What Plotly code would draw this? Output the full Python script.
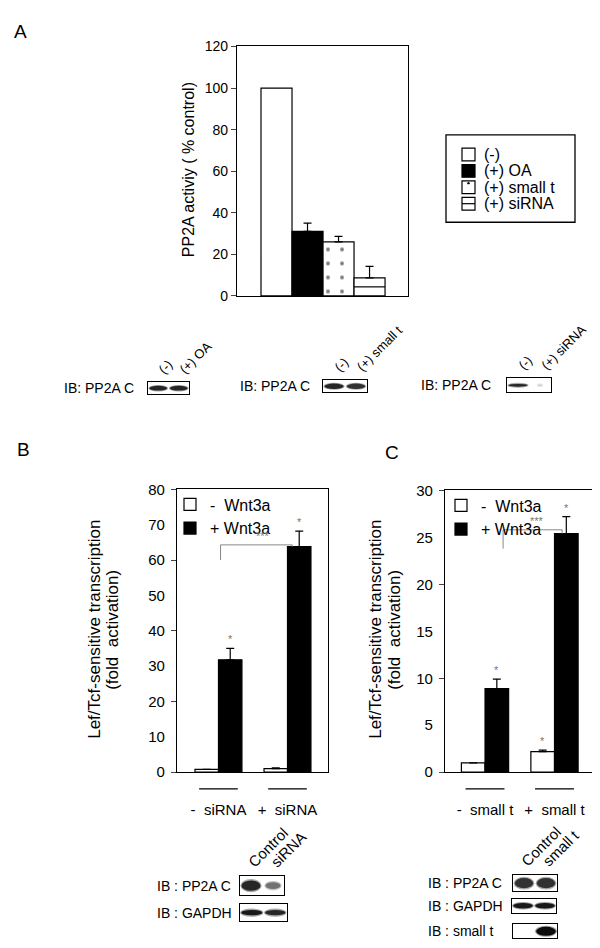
import plotly.graph_objects as go

W, H = 600, 948
FONT = "Liberation Sans"

# panel A: PP2A activity
a_labels = ["(-)", "(+) OA", "(+) small t", "(+) siRNA"]
a_values = [100, 31, 26, 8.7]
a_errors = [0, 4.0, 2.6, 5.5]

# panel B: Lef/Tcf reporter with siRNA
b_groups = ["-  siRNA", "+  siRNA"]
b_minus_wnt = [0.8, 1.0]
b_minus_err = [0.0, 0.2]
b_plus_wnt = [31.8, 63.8]
b_plus_err = [3.2, 4.4]

# panel C: Lef/Tcf reporter with small t
c_groups = ["-  small t", "+  small t"]
c_minus_wnt = [1.0, 2.2]
c_minus_err = [0.0, 0.15]
c_plus_wnt = [8.9, 25.4]
c_plus_err = [1.0, 1.8]

# western blots: label, lane names, band darkness and thickness
blot_names = ["IB: PP2A C", "IB: PP2A C", "IB: PP2A C",
              "IB : PP2A C", "IB : GAPDH",
              "IB : PP2A C", "IB : GAPDH", "IB : small t"]
blot_lanes = [["(-)", "(+) OA"], ["(-)", "(+) small t"], ["(-)", "(+) siRNA"],
              ["Control", "siRNA"], None,
              ["Control", "small t"], None, None]
blot_signal = [[0.85, 0.85], [0.85, 0.8], [0.85, 0.2],
               [0.85, 0.55], [0.9, 0.85],
               [0.8, 0.8], [0.9, 0.9], [0.0, 0.95]]
blot_thick = [[0.4, 0.4], [0.45, 0.45], [0.2, 0.12],
              [0.55, 0.35], [0.3, 0.3],
              [0.65, 0.65], [0.4, 0.4], [0.0, 0.65]]
# pixel boxes of each blot (left, top, right, bottom)
blot_boxes = [(140, 372, 181, 384), (315, 370, 359, 382), (499, 368, 543, 382),
              (232, 875, 276, 894), (232, 903, 279, 921),
              (505, 874, 549, 890), (504, 898, 548, 912), (505, 924, 549, 938)]
blot_label_x = [128, 304, 485, 147, 147, 418, 418, 418]
blot_label_anchor = ["right", "right", "right", "left", "left", "left", "left", "left"]


def px(p):
    return p / W


def py(p):
    return 1 - p / H


fig = go.Figure()
ann = []
shapes = []

# ---- panel A bars
a_fills = ["white", "black", "white", "white"]
for i, (lab, v, e, fc) in enumerate(zip(a_labels, a_values, a_errors, a_fills)):
    pattern = dict(shape=".", size=14, solidity=0.06, fgcolor="black", bgcolor="white") if lab == "(+) small t" else None
    fig.add_trace(go.Bar(
        x=[i], y=[v], width=1, offset=-0.5, name=lab, showlegend=False,
        marker=dict(color=fc, line=dict(color="black", width=1.2), pattern=pattern),
        error_y=dict(type="data", array=[e], arrayminus=[0], symmetric=False,
                     color="black", thickness=1.2, width=4, visible=e > 0),
        xaxis="x", yaxis="y"))
# the siRNA bar has a line through its middle
fig.add_trace(go.Scatter(x=[2.5, 3.5], y=[a_values[3] / 2] * 2, mode="lines",
                         line=dict(color="black", width=1.2), showlegend=False,
                         xaxis="x", yaxis="y", hoverinfo="skip"))

# panel A legend, boxed, drawn by hand to keep its tight rows
shapes.append(dict(type="rect", xref="paper", yref="paper", x0=px(438), x1=px(567), y0=py(209), y1=py(120),
                   line=dict(color="black", width=1.3), fillcolor="white"))
for i, lab in enumerate(a_labels):
    yc = 140 + i * 16.7
    shapes.append(dict(type="rect", xref="paper", yref="paper", x0=px(454), x1=px(467),
                       y0=py(yc + 6.5), y1=py(yc - 6.5), line=dict(color="black", width=1.2),
                       fillcolor=a_fills[i]))
    if lab == "(+) small t":
        shapes.append(dict(type="circle", xref="paper", yref="paper", x0=px(459.3), x1=px(461.7),
                           y0=py(yc - 3), y1=py(yc - 5.4), fillcolor="black", line=dict(width=0)))
    if lab == "(+) siRNA":
        shapes.append(dict(type="line", xref="paper", yref="paper", x0=px(454), x1=px(467),
                           y0=py(yc), y1=py(yc), line=dict(color="black", width=1.2)))
    ann.append(dict(x=px(474), y=py(yc), xref="paper", yref="paper", text=lab, xanchor="left",
                    yanchor="middle", showarrow=False, font=dict(size=16)))


def reporter(xa, ya, leg, minus, minus_err, plus, plus_err):
    xs = list(range(len(minus)))
    fig.add_trace(go.Bar(x=xs, y=minus, width=0.34, offset=-0.34, name="-  Wnt3a", legend=leg,
                         marker=dict(color="white", line=dict(color="black", width=1.2)),
                         error_y=dict(type="data", array=minus_err, arrayminus=[0] * len(xs),
                                      symmetric=False, color="black", thickness=1.2, width=4),
                         xaxis=xa, yaxis=ya))
    fig.add_trace(go.Bar(x=xs, y=plus, width=0.34, offset=0, name="+ Wnt3a", legend=leg,
                         marker=dict(color="black", line=dict(color="black", width=1.2)),
                         error_y=dict(type="data", array=plus_err, arrayminus=[0] * len(xs),
                                      symmetric=False, color="black", thickness=1.2, width=4),
                         xaxis=xa, yaxis=ya))


reporter("x2", "y2", "legend2", b_minus_wnt, b_minus_err, b_plus_wnt, b_plus_err)
reporter("x3", "y3", "legend3", c_minus_wnt, c_minus_err, c_plus_wnt, c_plus_err)

# significance brackets
fig.add_trace(go.Scatter(x=[0.03, 0.03, 1.07, 1.07], y=[60, 64.3, 64.3, 63.8], mode="lines",
                         line=dict(color="#888888", width=1), showlegend=False,
                         xaxis="x2", yaxis="y2", hoverinfo="skip"))
fig.add_trace(go.Scatter(x=[0.26, 0.26, 1.11, 1.11], y=[23.8, 25.8, 25.8, 25.4], mode="lines",
                         line=dict(color="#888888", width=1), showlegend=False,
                         xaxis="x3", yaxis="y3", hoverinfo="skip"))
# dummy traces for the tick-only axes
fig.add_trace(go.Scatter(x=[None], y=[None], xaxis="x2", yaxis="y6", showlegend=False))
fig.add_trace(go.Scatter(x=[None], y=[None], xaxis="x3", yaxis="y7", showlegend=False))


def star(xa, ya, x, y, text="*"):
    ann.append(dict(x=x, y=y, xref=xa, yref=ya, text=text, showarrow=False, yanchor="bottom",
                    xanchor="center", yshift=1, font=dict(size=11, color="#777777")))


for i in range(2):
    star("x2", "y2", i + 0.17, b_plus_wnt[i] + b_plus_err[i])
    star("x3", "y3", i + 0.17, c_plus_wnt[i] + c_plus_err[i])
star("x3", "y3", 1 - 0.17, c_minus_wnt[1] + c_minus_err[1])
star("x2", "y2", 0.64, 64.3, "***")
star("x3", "y3", 0.75, 25.8, "***")

# group lines under B and C x labels
for xa in ["x2", "x3"]:
    for i in range(2):
        shapes.append(dict(type="line", xref=xa, yref="paper", x0=i - 0.28, x1=i + 0.28,
                           y0=py(786), y1=py(786), line=dict(color="black", width=1.2)))

# axis titles
ann.append(dict(x=px(180), y=py(156), xref="paper", yref="paper", text="PP2A activiy ( % control)",
                textangle=-90, showarrow=False, xanchor="center", yanchor="middle", font=dict(size=16)))
for xx, txt in [(px(87), "Lef/Tcf-sensitive transcription"), (px(105), "(fold  activation)"),
                (px(368), "Lef/Tcf-sensitive transcription"), (px(387), "(fold  activation)")]:
    ann.append(dict(x=xx, y=py(624), xref="paper", yref="paper", text=txt, textangle=-90,
                    xanchor="center", yanchor="middle", showarrow=False, font=dict(size=17)))

# panel letters
for lab, xx, yy in [("A", 12, 15), ("B", 15, 440), ("C", 384, 443)]:
    ann.append(dict(x=px(xx), y=py(yy), xref="paper", yref="paper", text=lab, showarrow=False,
                    xanchor="center", yanchor="middle", font=dict(size=19)))

layout_axes = {}
# blots
for k, (name, lanes, sig, thick, box, lx, la) in enumerate(
        zip(blot_names, blot_lanes, blot_signal, blot_thick, blot_boxes, blot_label_x, blot_label_anchor)):
    ax = 8 + k
    xa, ya = "x%d" % ax, "y%d" % ax
    l, t, r, b = box
    layout_axes["xaxis%d" % ax] = dict(domain=[px(l), px(r)], range=[0, 2], anchor=ya, showline=True,
                                       mirror=True, linecolor="black", linewidth=1.3, showticklabels=False,
                                       ticks="", showgrid=False, zeroline=False, fixedrange=True)
    layout_axes["yaxis%d" % ax] = dict(domain=[py(b), py(t)], range=[0, 1], anchor=xa, showline=True,
                                       mirror=True, linecolor="black", linewidth=1.3, showticklabels=False,
                                       ticks="", showgrid=False, zeroline=False, fixedrange=True)
    fig.add_trace(go.Scatter(x=[None], y=[None], xaxis=xa, yaxis=ya, showlegend=False))
    for j, (s, th) in enumerate(zip(sig, thick)):
        if s <= 0:
            continue
        g = int(255 * (1 - s))
        halo = int(255 - (255 - g) * 0.4)
        wid = 0.35 + 0.55 * min(1, s * 1.1) if s > 0.3 else 0.2
        shapes.append(dict(type="circle", xref=xa, yref=ya, x0=j + 0.5 - wid / 2 - 0.05,
                           x1=j + 0.5 + wid / 2 + 0.05, y0=0.5 - th / 2 - 0.08, y1=0.5 + th / 2 + 0.08,
                           fillcolor="rgb(%d,%d,%d)" % (halo, halo, halo), line=dict(width=0), layer="above"))
        shapes.append(dict(type="circle", xref=xa, yref=ya, x0=j + 0.5 - wid / 2, x1=j + 0.5 + wid / 2,
                           y0=0.5 - th / 2, y1=0.5 + th / 2,
                           fillcolor="rgb(%d,%d,%d)" % (g, g, g), line=dict(width=0), layer="above"))
    ann.append(dict(x=px(lx), y=py((t + b) / 2), xref="paper", yref="paper", text=name,
                    xanchor=la, yanchor="middle", showarrow=False, font=dict(size=14)))
    if lanes:
        size = 13 if k < 3 else 15
        for j, lane in enumerate(lanes):
            ann.append(dict(x=px(l + (r - l) * (j + 0.5) / 2 - (5 if k < 3 else 9)), y=py(t - 3),
                            xref="paper", yref="paper", text=lane, textangle=-45,
                            xanchor="left", yanchor="bottom", showarrow=False, font=dict(size=size)))

axis_common = dict(showline=True, mirror=True, linecolor="black", linewidth=1.3, showgrid=False,
                   zeroline=False, fixedrange=True)

fig.update_layout(
    width=W, height=H, margin=dict(l=0, r=0, t=0, b=0),
    paper_bgcolor="white", plot_bgcolor="white",
    font=dict(family=FONT, size=14, color="black"),
    barmode="overlay",
    xaxis=dict(domain=[px(229), px(400)], range=[-1.274, 4.24], ticks="", showticklabels=False,
               anchor="y", **axis_common),
    yaxis=dict(domain=[py(284), py(30)], range=[0, 120], dtick=20, ticks="outside", ticklen=5,
               tickfont=dict(size=14), anchor="x", **axis_common),
    xaxis2=dict(domain=[px(169), px(320)], range=[-0.601, 1.587], tickvals=[0, 1], ticktext=b_groups,
                ticks="", ticklabelstandoff=24, tickfont=dict(size=15), anchor="y2", **axis_common),
    yaxis2=dict(domain=[py(769), py(481)], range=[0, 80], dtick=10, ticks="", ticklabelstandoff=8,
                tickfont=dict(size=15), anchor="x2", **axis_common),
    yaxis6=dict(overlaying="y2", range=[0, 80], dtick=20, ticks="outside", ticklen=5, showticklabels=False,
                showgrid=False, zeroline=False, anchor="x2", side="left", fixedrange=True),
    xaxis3=dict(domain=[px(437), px(587)], range=[-0.576, 1.583], tickvals=[0, 1], ticktext=c_groups,
                ticks="", ticklabelstandoff=24, tickfont=dict(size=15), anchor="y3", **axis_common),
    yaxis3=dict(domain=[py(769), py(482)], range=[0, 30], dtick=5, ticks="", ticklabelstandoff=8,
                tickfont=dict(size=15), anchor="x3", **axis_common),
    yaxis7=dict(overlaying="y3", range=[0, 30], dtick=10, ticks="outside", ticklen=5, showticklabels=False,
                showgrid=False, zeroline=False, anchor="x3", side="left", fixedrange=True),
    legend2=dict(x=px(162), y=py(479), xanchor="left", yanchor="top", bgcolor="rgba(0,0,0,0)",
                 font=dict(size=16), itemclick=False),
    legend3=dict(x=px(433), y=py(480), xanchor="left", yanchor="top", bgcolor="rgba(0,0,0,0)",
                 font=dict(size=16), itemclick=False),
    annotations=ann, shapes=shapes,
    **layout_axes,
)

fig.write_html("out.html")
